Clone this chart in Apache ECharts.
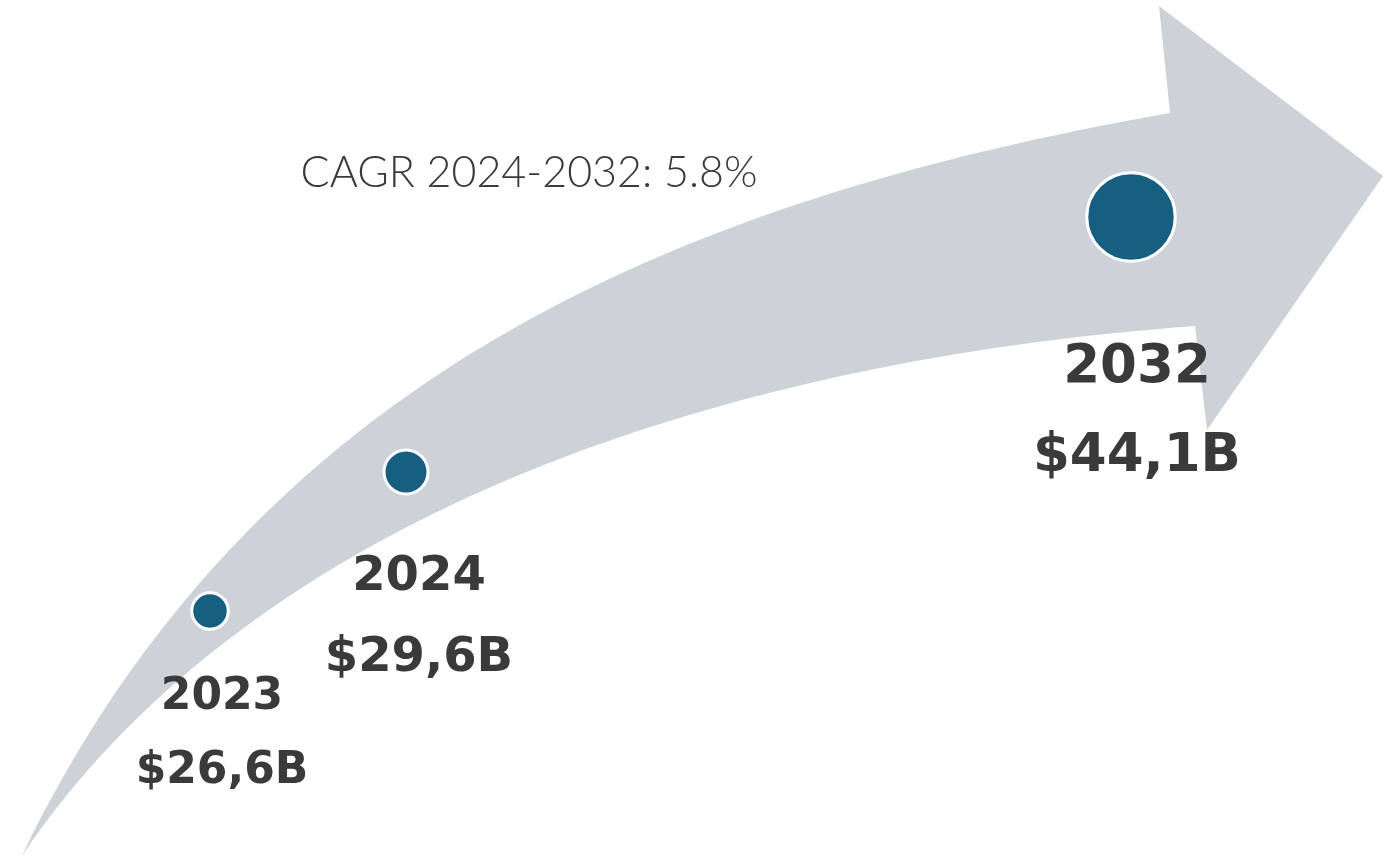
<!DOCTYPE html>
<html>
<head>
<meta charset="utf-8">
<title>Market size 2023–2032</title>
<script src="https://cdn.jsdelivr.net/npm/echarts@6/dist/echarts.min.js"></script>
<style>
  html, body { margin: 0; padding: 0; background: #ffffff; }
  #chart { width: 1397px; height: 857px; }
</style>
</head>
<body>
<div id="chart"></div>
<script>
// ---- data ----
const years = ['2023', '2024', '2032'];
const values = [26.6, 29.6, 44.1];            // market size, $ billions
const valueLabels = ['$26,6B', '$29,6B', '$44,1B'];
const cagrLabel = 'CAGR 2024-2032: 5.8%';

// ---- layout (canvas space, px) ----
const W = 1397, H = 857;
// where each milestone sits along the arrow
const anchors = [[210, 611], [406, 472], [1131, 217]];
// label font size and offset of the label block from its marker
const labelFont = [44, 48, 53];
const labelOffset = [[12, 124], [13, 146], [6, 196]];

// arrow outline: upper edge (tail -> notch), head, lower edge (notch -> tail)
const upperEdge = [[22, 856], [100, 722], [157, 642], [230, 548], [350, 430], [450, 367],
                   [600, 290], [790, 207], [983, 148], [1170, 113]];
const arrowHead = [[1159, 6], [1383, 176], [1207, 430]];
const lowerEdge = [[1195, 326], [983, 347], [753, 400], [650, 429], [517, 473], [417, 520],
                   [320, 581], [233, 634], [160, 697], [100, 757], [50, 817], [22, 856]];

const ARROW = '#cdd2d9';
const DOT = '#175f80';
const TEXT = '#3a3a3a';

// Least-squares cubic Bézier through a run of outline points (ends fixed),
// so each edge of the arrow is one clean sweep.
function fitCubic(pts) {
  const n = pts.length, P0 = pts[0], P3 = pts[n - 1];
  // chord-length parameters
  let t = [0];
  for (let i = 1; i < n; i++) {
    t.push(t[i - 1] + Math.hypot(pts[i][0] - pts[i - 1][0], pts[i][1] - pts[i - 1][1]));
  }
  t = t.map(v => v / t[n - 1]);
  let P1 = P0, P2 = P3;
  const bez = (u, A, B, C, D) => {
    const m = 1 - u;
    return [m * m * m * A[0] + 3 * m * m * u * B[0] + 3 * m * u * u * C[0] + u * u * u * D[0],
            m * m * m * A[1] + 3 * m * m * u * B[1] + 3 * m * u * u * C[1] + u * u * u * D[1]];
  };
  for (let iter = 0; iter < 30; iter++) {
    let a11 = 0, a12 = 0, a22 = 0, r1 = [0, 0], r2 = [0, 0];
    for (let i = 0; i < n; i++) {
      const u = t[i], m = 1 - u;
      const b0 = m * m * m, b1 = 3 * m * m * u, b2 = 3 * m * u * u, b3 = u * u * u;
      const R = [pts[i][0] - b0 * P0[0] - b3 * P3[0], pts[i][1] - b0 * P0[1] - b3 * P3[1]];
      a11 += b1 * b1; a12 += b1 * b2; a22 += b2 * b2;
      r1[0] += b1 * R[0]; r1[1] += b1 * R[1];
      r2[0] += b2 * R[0]; r2[1] += b2 * R[1];
    }
    const det = a11 * a22 - a12 * a12;
    P1 = [(r1[0] * a22 - r2[0] * a12) / det, (r1[1] * a22 - r2[1] * a12) / det];
    P2 = [(a11 * r2[0] - a12 * r1[0]) / det, (a11 * r2[1] - a12 * r1[1]) / det];
    // Newton step on each parameter
    for (let i = 1; i < n - 1; i++) {
      const u = t[i], m = 1 - u;
      const B = bez(u, P0, P1, P2, P3);
      const d1 = [3 * m * m * (P1[0] - P0[0]) + 6 * m * u * (P2[0] - P1[0]) + 3 * u * u * (P3[0] - P2[0]),
                  3 * m * m * (P1[1] - P0[1]) + 6 * m * u * (P2[1] - P1[1]) + 3 * u * u * (P3[1] - P2[1])];
      const d2 = [6 * m * (P2[0] - 2 * P1[0] + P0[0]) + 6 * u * (P3[0] - 2 * P2[0] + P1[0]),
                  6 * m * (P2[1] - 2 * P1[1] + P0[1]) + 6 * u * (P3[1] - 2 * P2[1] + P1[1])];
      const e = [B[0] - pts[i][0], B[1] - pts[i][1]];
      const num = e[0] * d1[0] + e[1] * d1[1];
      const den = d1[0] * d1[0] + d1[1] * d1[1] + e[0] * d2[0] + e[1] * d2[1];
      if (den > 0) t[i] = Math.min(1, Math.max(0, u - num / den));
    }
  }
  return [P1, P2, P3];
}

// marker diameter grows with market size
function markerSize(v) {
  return 36.5 * Math.pow(v / values[0], 1.75);
}

const chart = echarts.init(document.getElementById('chart'), null, { renderer: 'canvas' });

chart.setOption({
  backgroundColor: '#ffffff',
  animation: false,
  grid: { left: 0, right: 0, top: 0, bottom: 0 },
  xAxis: { type: 'value', min: 0, max: W, show: false },
  yAxis: { type: 'value', min: 0, max: H, inverse: true, show: false },
  graphic: [{
    type: 'text',
    x: 529, y: 173,
    style: {
      text: cagrLabel,
      fill: TEXT,
      font: '300 43px Lato, "Open Sans", sans-serif',
      align: 'center',
      verticalAlign: 'middle'
    }
  }],
  series: [
    {
      // the growth arrow behind the markers
      type: 'custom',
      silent: true,
      z: 1,
      data: [[0, 0]],
      renderItem: function (params, api) {
        const c = p => api.coord(p);
        const up = upperEdge.map(c), head = arrowHead.map(c), low = lowerEdge.map(c);
        const cu = fitCubic(up), cl = fitCubic(low);
        const seg = cc => ' C' + cc[0][0] + ' ' + cc[0][1] + ' ' + cc[1][0] + ' ' + cc[1][1] + ' ' + cc[2][0] + ' ' + cc[2][1];
        let d = 'M' + up[0][0] + ' ' + up[0][1] + seg(cu);
        head.forEach(p => { d += ' L' + p[0] + ' ' + p[1]; });
        d += ' L' + low[0][0] + ' ' + low[0][1] + seg(cl) + ' Z';
        return { type: 'path', shape: { pathData: d }, style: { fill: ARROW } };
      }
    },
    {
      type: 'scatter',
      z: 2,
      symbol: 'circle',
      symbolSize: function (d) { return markerSize(d[2]); },
      itemStyle: { color: DOT, borderColor: '#ffffff', borderWidth: 3, opacity: 1 },
      data: years.map(function (y, i) {
        const fs = labelFont[i];
        return {
          name: y,
          value: [anchors[i][0], anchors[i][1], values[i]],
          label: {
            show: true,
            position: 'inside',
            offset: labelOffset[i],
            align: 'center',
            verticalAlign: 'middle',
            formatter: '{y|' + y + '}\n{v|' + valueLabels[i] + '}',
            rich: {
              y: { fontSize: fs, fontWeight: 'bold', fontFamily: 'DejaVu Sans', color: TEXT, lineHeight: fs * 1.68, align: 'center' },
              v: { fontSize: fs, fontWeight: 'bold', fontFamily: 'DejaVu Sans', color: TEXT, lineHeight: fs * 1.68, align: 'center' }
            }
          }
        };
      })
    }
  ]
});
</script>
</body>
</html>
